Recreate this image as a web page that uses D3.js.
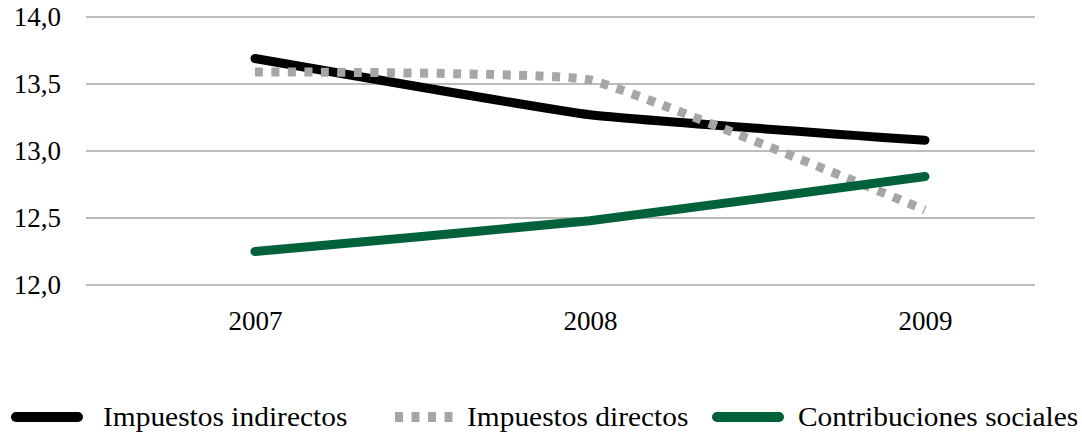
<!DOCTYPE html>
<html>
<head>
<meta charset="utf-8">
<style>
  body { margin: 0; background: #fff; }
  svg { display: block; }
  text { font-family: 'Liberation Serif', 'Times New Roman', serif; }
  .grid line { stroke: #a6a6a6; stroke-width: 1.3px; }
  .lbl { font-size: 27px; fill: #000; }
</style>
</head>
<body>
<svg id="chart" width="1082" height="432"></svg>
<script src="https://d3js.org/d3.v7.min.js"></script>
<script>
// data
const years = ["2007", "2008", "2009"];
const indirectos = [13.69, 13.27, 13.08];
const directos = [13.59, 13.53, 12.56];
const contribuciones = [12.25, 12.48, 12.81];
const yTicks = [12.0, 12.5, 13.0, 13.5, 14.0];
const seriesNames = ["Impuestos indirectos", "Impuestos directos", "Contribuciones sociales"];

const svg = d3.select("#chart");

// scales
let x = d3.scalePoint()
    .domain(years)
    .range([255, 925]);

let y = d3.scaleLinear()
    .domain([12, 14])
    .range([285, 17]);

// gridlines
svg.append("g")
    .attr("class", "grid")
    .selectAll("line")
    .data(yTicks)
    .join("line")
    .attr("x1", 86)
    .attr("x2", 1035)
    .attr("y1", d => y(d))
    .attr("y2", d => y(d));

// y axis labels
let yAxis = d3.axisLeft(y)
    .tickValues(yTicks)
    .tickSize(0)
    .tickPadding(0)
    .tickFormat(d => d3.format(".1f")(d).replace(".", ","));

svg.append("g")
    .attr("transform", "translate(61,0)")
    .call(yAxis)
    .attr("font-family", null)
    .attr("font-size", null)
    .call(g => g.select(".domain").remove())
    .call(g => g.selectAll("text")
        .attr("class", "lbl")
        .attr("dy", "0.32em"));

// x axis labels
let xAxis = d3.axisBottom(x)
    .tickSize(0)
    .tickPadding(0);

svg.append("g")
    .attr("transform", "translate(0,330)")
    .call(xAxis)
    .attr("font-family", null)
    .attr("font-size", null)
    .call(g => g.select(".domain").remove())
    .call(g => g.selectAll("text")
        .attr("class", "lbl")
        .attr("y", 0)
        .attr("dy", 0));

// lines (lightly smoothed)
let line = d3.line()
    .x((d, i) => x(years[i]))
    .y(d => y(d))
    .curve(d3.curveCardinal.tension(0.65));

const series = [
    { name: seriesNames[0], values: indirectos, color: "#000000", dash: null, cap: "round" },
    { name: seriesNames[1], values: directos, color: "#a6a6a6", dash: "8,8.5", cap: "butt" },
    { name: seriesNames[2], values: contribuciones, color: "#00613a", dash: null, cap: "round" }
];

svg.append("g")
    .selectAll("path")
    .data(series)
    .join("path")
    .attr("d", d => line(d.values))
    .style("fill", "none")
    .style("stroke", d => d.color)
    .style("stroke-width", "9px")
    .style("stroke-linecap", d => d.cap)
    .style("stroke-dasharray", d => d.dash);

// legend
const legendX = [16, 395, 717];
let legend = svg.append("g")
    .selectAll("g")
    .data(series)
    .join("g")
    .attr("transform", (d, i) => `translate(${legendX[i]},417)`);

legend.append("line")
    .attr("x1", 0)
    .attr("x2", 62)
    .style("stroke", d => d.color)
    .style("stroke-width", "10px")
    .style("stroke-linecap", d => d.cap)
    .style("stroke-dasharray", d => d.dash);

legend.append("text")
    .attr("class", "lbl")
    .attr("transform", (d, i) => `translate(${[87, 72, 81][i]},9) scale(1.09,1)`)
    .text(d => d.name);
</script>
</body>
</html>
